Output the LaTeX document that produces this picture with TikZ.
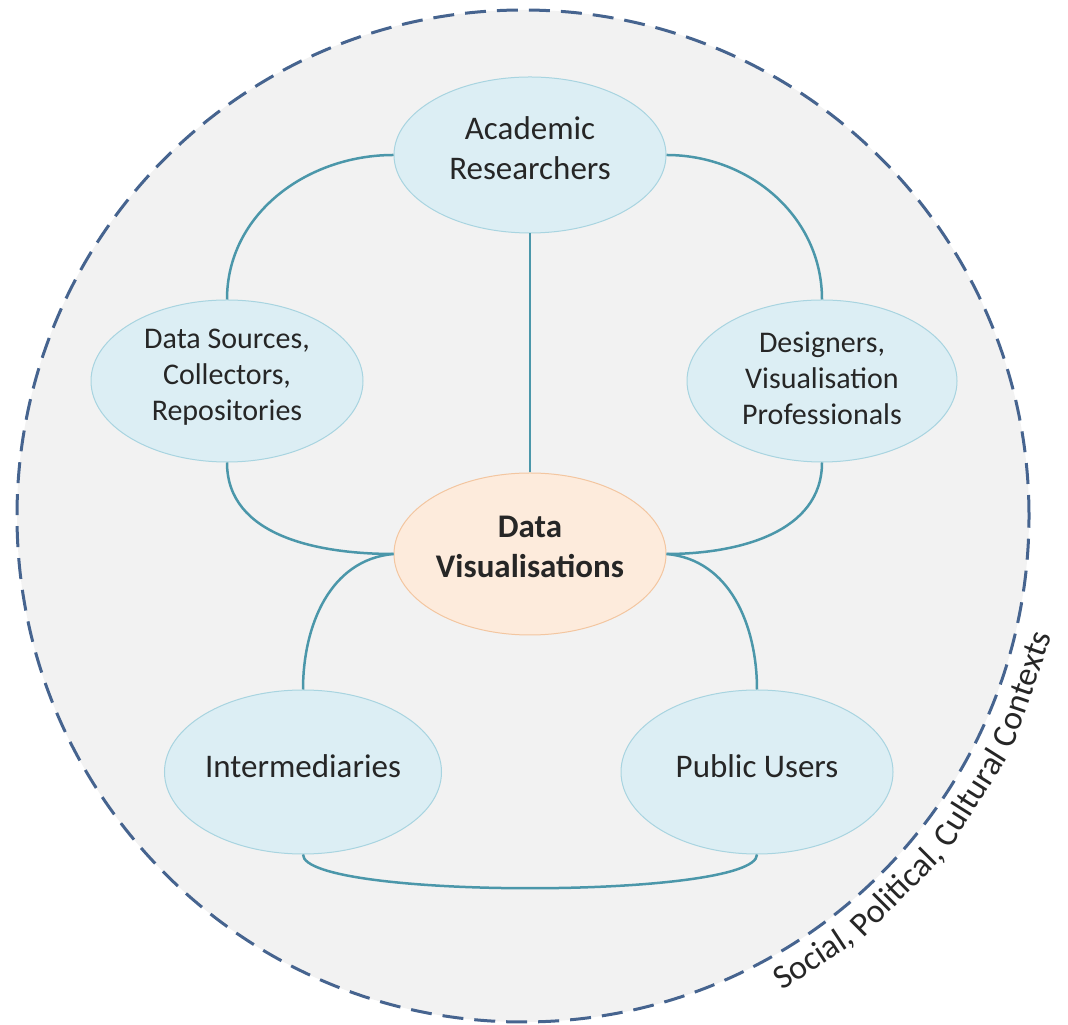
\documentclass[tikz,border=0pt]{standalone}
\usepackage{fontspec}
\setmainfont{Carlito}
\usetikzlibrary{shapes.geometric,calc}
\definecolor{bgfill}{HTML}{F2F2F2}
\definecolor{dashcol}{HTML}{46648F}
\definecolor{linkcol}{HTML}{4B97AA}
\definecolor{bluefill}{HTML}{DCEEF4}
\definecolor{blueedge}{HTML}{A8D4E0}
\definecolor{orangefill}{HTML}{FDEBDC}
\definecolor{orangeedge}{HTML}{F3C6A0}
\definecolor{txt}{HTML}{262626}
\tikzset{
  actor/.style={ellipse, draw=blueedge, fill=bluefill, line width=1pt, inner sep=0pt,
    align=center, text=txt, font=\fontsize{33}{40}\selectfont},
  actorsmall/.style={actor, font=\fontsize{30}{36}\selectfont},
  centre/.style={ellipse, draw=orangeedge, fill=orangefill, line width=1pt, inner sep=0pt,
    align=center, text=txt, font=\fontsize{33}{40}\selectfont\bfseries},
  link/.style={draw=linkcol, line width=2.5pt},
  context/.style={draw=dashcol, line width=3pt, dash pattern=on 21pt off 11pt},
  ctxword/.style={anchor=base, inner sep=0pt, text=txt, font=\fontsize{34}{40}\selectfont}
}
\begin{document}
\begin{tikzpicture}[x=1pt,y=1pt]
\useasboundingbox (0,0) rectangle (1068,1025);
\coordinate (ctr) at (523,509);
\fill[bgfill] (ctr) circle[radius=506pt];
\draw[context] (ctr) circle[radius=506pt];

\node[actor, minimum width=272pt, minimum height=156pt, text depth=14pt] (ar) at (530,870) {Academic\\Researchers};
\node[actorsmall, minimum width=272pt, minimum height=162pt, text depth=13pt] (ds) at (227,644) {Data Sources,\\Collectors,\\Repositories};
\node[actorsmall, minimum width=270pt, minimum height=162pt, text depth=6pt] (de) at (822,644) {Designers,\\Visualisation\\Professionals};
\node[centre, minimum width=272pt, minimum height=162pt, text depth=14pt] (dv) at (530,471) {Data\\Visualisations};
\node[actor, minimum width=276pt, minimum height=164pt, text depth=12pt] (im) at (303,253) {Intermediaries};
\node[actor, minimum width=272pt, minimum height=164pt, text depth=12pt] (pu) at (757,253) {Public Users};

\draw[link] (ar.west) to[out=180,in=90] (ds.north);
\draw[link] (ar.east) to[out=0,in=90] (de.north);
\draw[link] (ar.south) -- (dv.north);
\draw[link] (ds.south) to[out=-90,in=180] (dv.west);
\draw[link] (de.south) to[out=-90,in=0] (dv.east);
\draw[link] (dv.west) to[out=185,in=90] (im.north);
\draw[link] (dv.east) to[out=-5,in=90] (pu.north);
\draw[link] (im.south) .. controls +(0,-45) and +(0,-45) .. (pu.south);

\node[ctxword, rotate=33.3] (w1) at ($(ctr)+(-56.7:539pt)$) {Social,};
\node[ctxword, rotate=45.0] (w2) at ($(ctr)+(-45.0:539pt)$) {Political,};
\node[ctxword, rotate=57.8] (w3) at ($(ctr)+(-32.2:539pt)$) {Cultural};
\node[ctxword, rotate=70.9] (w4) at ($(ctr)+(-19.1:539pt)$) {Contexts};
\end{tikzpicture}
\end{document}
